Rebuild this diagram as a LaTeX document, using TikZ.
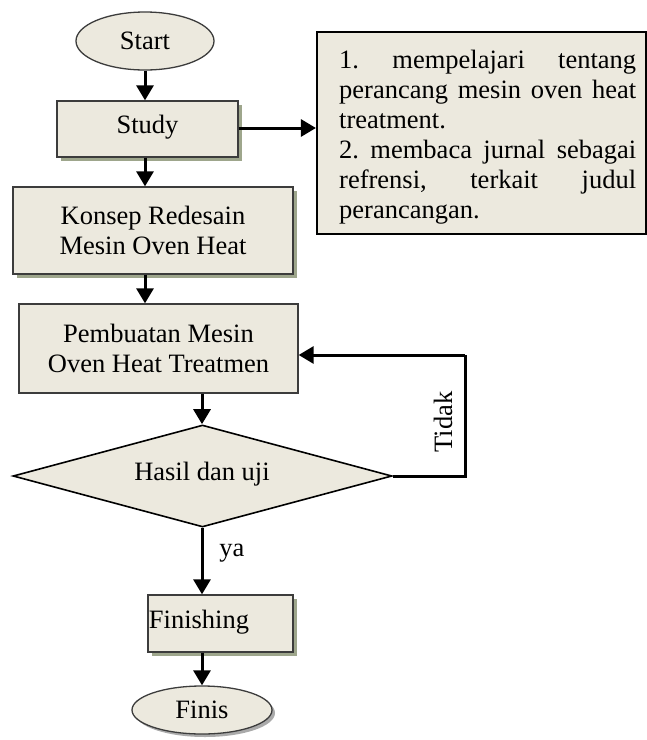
\documentclass[tikz,border=0pt]{standalone}
\usepackage{fontspec}
\setmainfont{Liberation Serif}
\usetikzlibrary{shapes.geometric,shadows,arrows.meta}
\definecolor{boxfill}{RGB}{236,233,222}
\definecolor{shadowc}{RGB}{158,166,140}
\definecolor{greyshadow}{RGB}{170,170,170}
\definecolor{edgec}{RGB}{60,60,60}
\tikzset{
  txt/.style={font=\fontsize{26.5}{30}\selectfont},
  flowbox/.style={draw=edgec, line width=1.3pt, fill=boxfill, rectangle, inner sep=0pt, txt, align=center},
  shadowed/.style={drop shadow={shadow xshift=3.5pt, shadow yshift=-3.5pt, fill=shadowc, opacity=1}},
  greyshadowed/.style={drop shadow={shadow xshift=3pt, shadow yshift=-3pt, fill=greyshadow, opacity=1}},
  terminal/.style={draw=edgec, line width=1.3pt, fill=boxfill, ellipse, inner sep=0pt, txt},
  decision/.style={draw=black, line width=1.6pt, fill=boxfill, diamond, inner sep=0pt, txt},
  arr/.style={line width=3pt, -{Triangle[length=15pt,width=17pt]}},
  plainline/.style={line width=3pt}
}
\begin{document}
\begin{tikzpicture}[x=1pt,y=-1pt]
\useasboundingbox (0,0) rectangle (647,740);
\coordinate (c1) at (145,0);
\coordinate (c2) at (202,0);
% nodes
\node[terminal, minimum width=138pt, minimum height=58pt] (start) at (145,41) {Start};
\node[flowbox, shadowed, minimum width=181pt, minimum height=56pt] (study) at (147.5,129) {};
\node[txt] (studyt) at (147.5,127) {Study};
\node[draw=black, line width=2.2pt, fill=boxfill, rectangle, inner sep=0pt, minimum width=329pt, minimum height=202pt] (info) at (481.5,133) {};
\node[anchor=base west, inner sep=0pt] (infot) at (339,68) {\parbox[t]{297pt}{\fontsize{26.5}{30}\selectfont\frenchspacing
\makebox[297pt][s]{1. mempelajari tentang}\\
\makebox[297pt][s]{perancang mesin oven heat}\\
treatment.\\
\makebox[297pt][s]{2. membaca jurnal sebagai}\\
\makebox[297pt][s]{refrensi, terkait judul}\\
perancangan.}};
\node[flowbox, shadowed, minimum width=280pt, minimum height=87pt] (konsep) at (153,230.5) {Konsep Redesain\\Mesin Oven Heat};
\node[flowbox, minimum width=279pt, minimum height=89pt] (buat) at (158.5,348.5) {Pembuatan Mesin\\Oven Heat Treatmen};
\node[decision, minimum width=379pt, minimum height=102pt] (uji) at (202.5,476) {};
\node[txt] (ujit) at (202,474) {Hasil dan uji};
\node[flowbox, shadowed, minimum width=145pt, minimum height=57pt] (finish) at (220.5,623.5) {};
\node[txt] (finisht) at (199,622) {Finishing};
\node[terminal, greyshadowed, minimum width=140pt, minimum height=48pt] (finis) at (202,710) {Finis};
\node[txt, rotate=90] (tidak) at (443,422) {Tidak};
\node[txt] (ya) at (232,553) {ya};
\coordinate (loopb) at (465,476);
\coordinate (loopt) at (465,355);
% connectors
\draw[arr] (start.south -| c1) -- (study.north -| c1);
\draw[arr] (study.east |- 0,128) -- (info.west |- 0,128);
\draw[arr] (study.south -| c1) -- (konsep.north -| c1);
\draw[arr] (konsep.south -| c1) -- (buat.north -| c1);
\draw[arr] (buat.south -| c2) -- (uji.north -| c2);
\draw[plainline] (uji.east) -- (loopb) -- (loopt);
\draw[arr] (loopt) -- (buat.east |- loopt);
\draw[arr] (uji.south -| c2) -- (finish.north -| c2);
\draw[arr] (finish.south -| c2) -- (finis.north -| c2);
\end{tikzpicture}
\end{document}
